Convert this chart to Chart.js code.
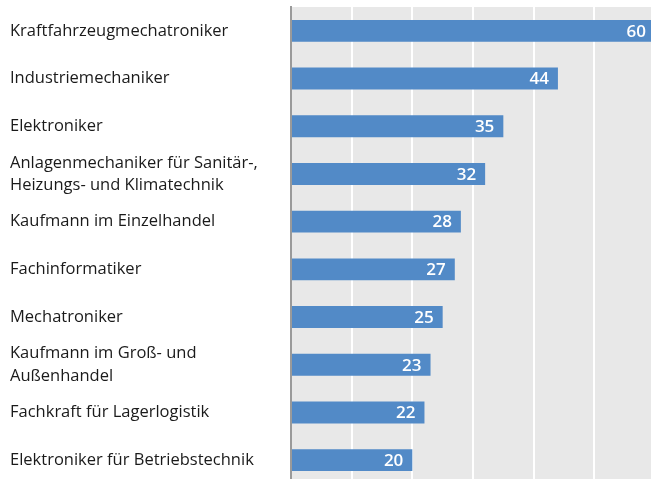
<!DOCTYPE html>
<html>
<head>
<meta charset="utf-8">
<script src="https://cdn.jsdelivr.net/npm/chart.js@4/dist/chart.umd.min.js"></script>
<style>
  html, body { margin: 0; padding: 0; background: #fff; overflow: hidden; }
  #wrap { position: relative; width: 655px; height: 484px; }
</style>
</head>
<body>
<div id="wrap"><canvas id="chart"></canvas></div>
<script>
// Occupations and their counts (top 10)
var occupations = [
    'Kraftfahrzeugmechatroniker',
    'Industriemechaniker',
    'Elektroniker',
    ['Anlagenmechaniker für Sanitär-,', 'Heizungs- und Klimatechnik'],
    'Kaufmann im Einzelhandel',
    'Fachinformatiker',
    'Mechatroniker',
    ['Kaufmann im Groß- und', 'Außenhandel'],
    'Fachkraft für Lagerlogistik',
    'Elektroniker für Betriebstechnik'
];
var counts = [60, 44, 35, 32, 28, 27, 25, 23, 22, 20];
var xTicks = [0, 10, 20, 30, 40, 50, 60];

const FONT = '"Open Sans", "Noto Sans", sans-serif';

// grey plot background
const plotBackground = {
    id: 'plotBackground',
    beforeDraw(chart) {
        const a = chart.chartArea;
        const ctx = chart.ctx;
        ctx.save();
        ctx.fillStyle = '#e8e8e8';
        ctx.fillRect(a.left, a.top, a.right - a.left, a.bottom - a.top);
        ctx.restore();
    }
};

// value written inside the end of each bar
const barValues = {
    id: 'barValues',
    afterDatasetsDraw(chart) {
        const ctx = chart.ctx;
        const meta = chart.getDatasetMeta(0);
        ctx.save();
        ctx.fillStyle = '#ffffff';
        ctx.font = '600 17px ' + FONT;
        ctx.textAlign = 'right';
        ctx.textBaseline = 'middle';
        meta.data.forEach((bar, i) => {
            ctx.fillText(counts[i], bar.x - 9, bar.y + 1);
        });
        ctx.restore();
    }
};

new Chart(document.getElementById('chart'), {
    type: 'bar',
    data: {
        labels: occupations,
        datasets: [{
            data: counts,
            backgroundColor: '#528ac7',
            borderWidth: 0,
            barPercentage: 0.46,
            categoryPercentage: 1.0
        }]
    },
    options: {
        indexAxis: 'y',
        responsive: true,
        maintainAspectRatio: false,
        animation: false,
        layout: { padding: { left: 10, top: 7, right: 0, bottom: 0 } },
        plugins: {
            legend: { display: false },
            tooltip: { enabled: false }
        },
        scales: {
            x: {
                min: 0,
                max: 60,
                afterBuildTicks(scale) {
                    scale.ticks = xTicks.map(v => ({ value: v }));
                },
                afterFit(scale) {
                    scale.height = 0;
                },
                ticks: { display: false },
                grid: {
                    color: ctx => ctx.tick && ctx.tick.value === 0 ? 'rgba(0,0,0,0)' : '#ffffff',
                    lineWidth: 2,
                    drawTicks: false
                },
                border: { display: false }
            },
            y: {
                afterFit(scale) {
                    scale.width = 281;
                    // labels sit mid-category, no extra room needed above/below
                    scale.paddingTop = 0;
                    scale.paddingBottom = 0;
                },
                ticks: {
                    crossAlign: 'far',
                    color: '#1a1a1a',
                    font: { family: FONT, size: 16.5, lineHeight: 1.35 },
                    padding: 0
                },
                grid: { display: false, drawTicks: false },
                border: { display: true, color: '#9a9a9a', width: 2 }
            }
        }
    },
    plugins: [plotBackground, barValues]
});
</script>
</body>
</html>
